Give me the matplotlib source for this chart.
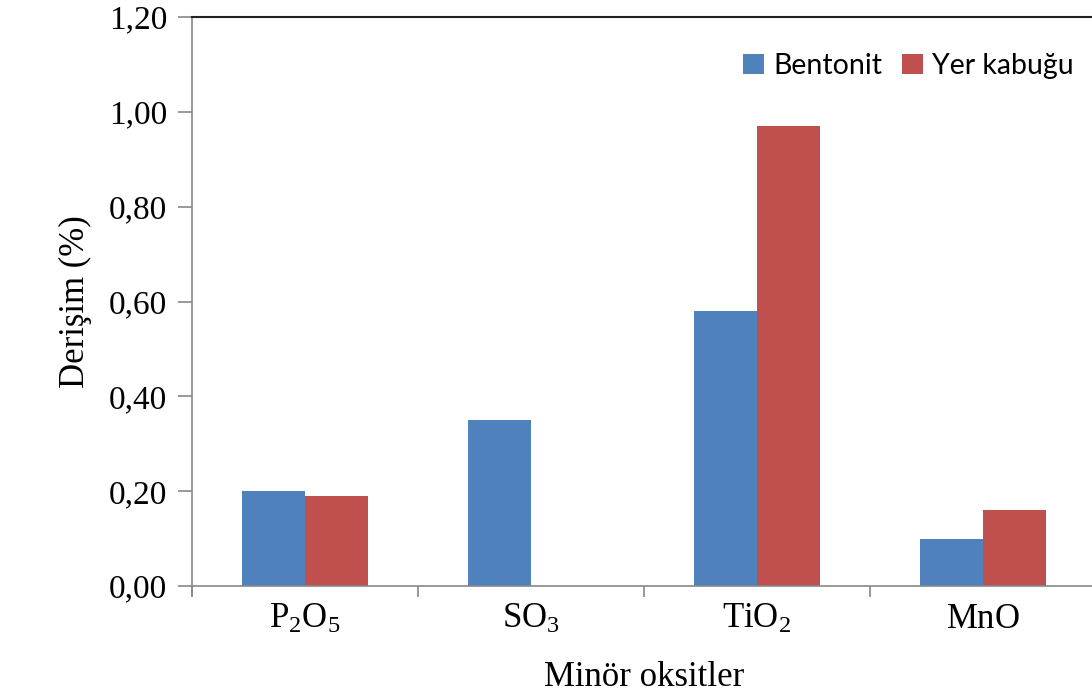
import matplotlib.pyplot as plt
import numpy as np

categories = [r'$\mathrm{P_2O_5}$', r'$\mathrm{SO_3}$', r'$\mathrm{TiO_2}$', r'$\mathrm{MnO}$']
bentonit = [0.20, 0.35, 0.58, 0.10]
yer_kabugu = [0.19, 0.0, 0.97, 0.16]
yticks = [0.0, 0.2, 0.4, 0.6, 0.8, 1.0, 1.2]
ytick_labels = ['0,00', '0,20', '0,40', '0,60', '0,80', '1,00', '1,20']

plt.rcParams['font.family'] = 'Liberation Serif'
plt.rcParams['mathtext.fontset'] = 'custom'
plt.rcParams['mathtext.rm'] = 'Liberation Serif'
plt.rcParams['mathtext.it'] = 'Liberation Serif:italic'

fig = plt.figure(figsize=(10.92, 6.99), dpi=100)
ax = fig.add_axes([192/1092, 1-586/699, (1096-192)/1092, (586-17)/699])

x = np.arange(len(categories))
w = 0.28
ax.bar(x - w/2, bentonit, w, color='#4F81BD', label='Bentonit')
ax.bar(x + w/2, yer_kabugu, w, color='#C0504D', label='Yer kabuğu')

ax.set_xlim(-0.5, 3.5)
ax.set_ylim(0, 1.2)
ax.set_yticks(yticks)
ax.set_yticklabels(ytick_labels, fontsize=24)
ax.set_xticks(x)
ax.set_xticklabels(categories, fontsize=25)
ax.set_xticks(np.arange(-0.5, 4.0, 1.0), minor=True)
ax.tick_params(axis='x', which='major', length=0, pad=12)
ax.tick_params(axis='x', which='minor', length=8, color='#888888', width=1.2)
ax.tick_params(axis='y', length=10, color='#888888', width=1.2, pad=8)

for s in ['left', 'bottom']:
    ax.spines[s].set_color('#888888')
    ax.spines[s].set_linewidth(1.2)
ax.spines['right'].set_visible(False)
ax.spines['top'].set_color('#222222')
ax.spines['top'].set_linewidth(1.5)
ax.spines['left'].set_bounds(-0.02, 1.2)

ax.set_ylabel('Derişim (%)', fontsize=25, labelpad=12)
ax.set_xlabel('Minör oksitler', fontsize=25, labelpad=18)

leg = ax.legend(loc='center right', bbox_to_anchor=(0.975, 0.914), ncol=2, frameon=False,
                prop={'family': 'Lato', 'size': 20.5}, handlelength=0.75, handleheight=0.75,
                handletextpad=0.3, columnspacing=0.7, borderpad=0, borderaxespad=0)

fig.savefig('out.png', dpi=100)
